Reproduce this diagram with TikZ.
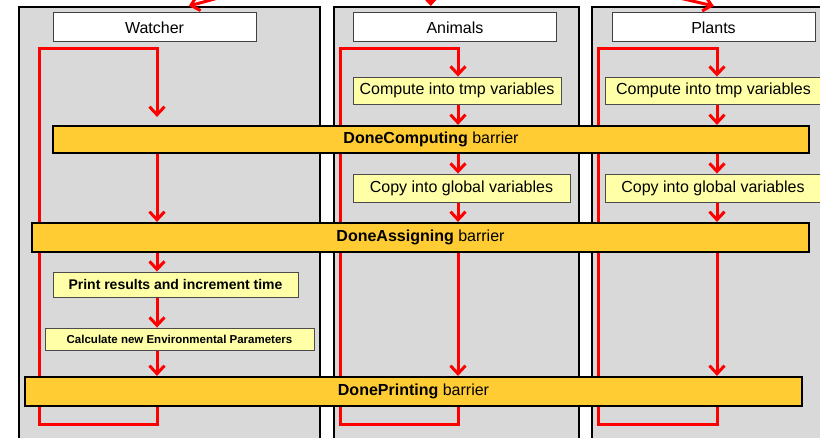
\documentclass[tikz,border=0pt]{standalone}
\usepackage{fontspec}
\setmainfont{Liberation Sans}
\usetikzlibrary{arrows.meta,positioning,backgrounds}
\pgfdeclarelayer{flowlayer}
\pgfsetlayers{background,flowlayer,main}

\definecolor{panelgray}{HTML}{D9D9D9}
\definecolor{barriergold}{HTML}{FFCC33}
\definecolor{taskyellow}{HTML}{FFFFA8}
\definecolor{flowred}{HTML}{FF0000}

\begin{document}
\begin{tikzpicture}[
        x=1pt, y=-1pt,
        panel/.style={
            rectangle,
            draw=black,
            line width=1.6pt,
            fill=panelgray,
            anchor=north west,
            minimum height=470pt
        },
        title/.style={
            rectangle,
            draw=black!75,
            line width=1pt,
            fill=white,
            minimum width=203pt,
            minimum height=29pt,
            font=\fontsize{16}{18}\selectfont
        },
        task/.style={
            rectangle,
            draw=black!70,
            line width=0.9pt,
            fill=taskyellow,
            minimum height=27pt,
            inner sep=1pt,
            font=\fontsize{16}{18}\selectfont
        },
        barrier/.style={
            rectangle,
            draw=black,
            line width=2.2pt,
            fill=barriergold,
            minimum height=29pt,
            font=\fontsize{16}{18}\selectfont
        },
        flow/.style={
            draw=flowred,
            line width=3pt,
            -{Straight Barb[length=8pt,width=15pt]}
        }
    ]
    \useasboundingbox (0,0) rectangle (820,438);
    % Column panels
    \begin{pgfonlayer}{background}
        \clip (0,0) rectangle (820,438);
        \node[panel, minimum width=301pt] (wpanel) at (18,6) {};
        \node[panel, minimum width=245pt] (apanel) at (333,6) {};
        \node[panel, minimum width=250pt] (ppanel) at (591,6) {};
    \end{pgfonlayer}
    % Column titles
    \node[title] (wtitle) at (154.5,27.5) {Watcher};
    \node[title] (atitle) at (455,27.5) {Animals};
    \node[title] (ptitle) at (713.5,27.5) {Plants};
    % Work steps
    \node[task, minimum width=208pt] (acompute) at (457,90.5) {Compute into tmp variables};
    \node[task, minimum width=217pt] (pcompute) at (713.5,90.5) {Compute into tmp variables};
    \node[task, minimum width=217pt, minimum height=28pt] (acopy) at (461.5,188) {Copy into global variables};
    \node[task, minimum width=216pt, minimum height=28pt] (pcopy) at (713,188) {Copy into global variables};
    \node[task, minimum width=245pt, minimum height=25pt,
          font=\bfseries\fontsize{14}{16}\selectfont] (print) at (175.5,284.5) {Print results and increment time};
    \node[task, minimum width=269pt, minimum height=22pt,
          font=\bfseries\fontsize{11.5}{13}\selectfont] (calc) at (179.5,339) {Calculate new Environmental Parameters};
    % Barriers
    \node[barrier, minimum width=756pt, minimum height=27pt] (dcomputing) at (431,139.5) {\textbf{DoneComputing} barrier};
    \node[barrier, minimum width=777pt] (dassigning) at (420.5,237.5) {\textbf{DoneAssigning} barrier};
    \node[barrier, minimum width=777pt] (dprinting) at (413.5,391.5) {\textbf{DonePrinting} barrier};
    % Column axes, loop corners and the incoming start
    \coordinate (wx) at (157,0);
    \coordinate (ax) at (458,0);
    \coordinate (px) at (717,0);
    \coordinate (wtop) at (39.5,49);
    \coordinate (wbot) at (39.5,425);
    \coordinate (atop) at (340,49);
    \coordinate (abot) at (340,425);
    \coordinate (ptop) at (598,49);
    \coordinate (pbot) at (598,425);
    \coordinate (launch) at (430,-60);
    \begin{pgfonlayer}{flowlayer}
        \clip (0,0) rectangle (820,438);
        % Start of each thread
        \draw[flow] (launch) -- ([xshift=19.5pt]wpanel.north);
        \draw[flow] (launch) -- ([xshift=-25.5pt]apanel.north);
        \draw[flow] (launch) -- ([xshift=-3pt]ppanel.north);
        % Watcher loop
        \draw[flow, shorten >=8pt] (dprinting.south -| wx) |- (wbot) -- (wtop) -| (dcomputing.north -| wx);
        \draw[flow] (dcomputing.south -| wx) -- (dassigning.north -| wx);
        \draw[flow] (dassigning.south -| wx) -- (print.north -| wx);
        \draw[flow] (print.south -| wx) -- (calc.north -| wx);
        \draw[flow] (calc.south -| wx) -- (dprinting.north -| wx);
        % Animals loop
        \draw[flow] (dprinting.south -| ax) |- (abot) -- (atop) -| (acompute.north -| ax);
        \draw[flow] (acompute.south -| ax) -- (dcomputing.north -| ax);
        \draw[flow] (dcomputing.south -| ax) -- (acopy.north -| ax);
        \draw[flow] (acopy.south -| ax) -- (dassigning.north -| ax);
        \draw[flow] (dassigning.south -| ax) -- (dprinting.north -| ax);
        % Plants loop
        \draw[flow] (dprinting.south -| px) |- (pbot) -- (ptop) -| (pcompute.north -| px);
        \draw[flow] (pcompute.south -| px) -- (dcomputing.north -| px);
        \draw[flow] (dcomputing.south -| px) -- (pcopy.north -| px);
        \draw[flow] (pcopy.south -| px) -- (dassigning.north -| px);
        \draw[flow] (dassigning.south -| px) -- (dprinting.north -| px);
    \end{pgfonlayer}
\end{tikzpicture}
\end{document}
